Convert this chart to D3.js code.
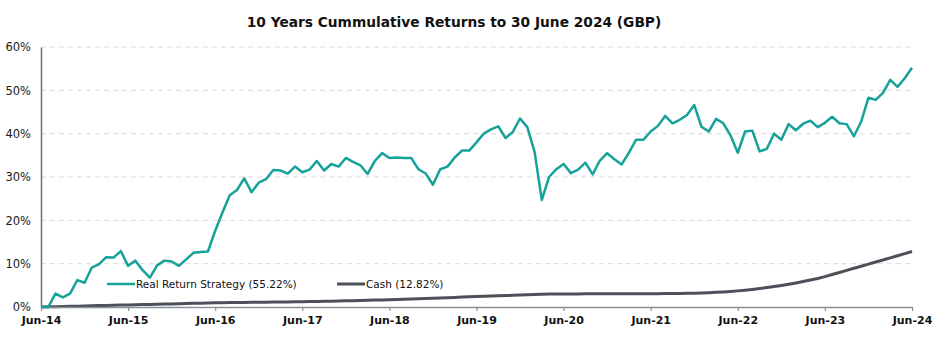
<!DOCTYPE html>
<html>
<head>
<meta charset="utf-8">
<script src="https://cdn.jsdelivr.net/npm/d3@7"></script>
<style>
  html, body { margin: 0; padding: 0; background: #ffffff; }
  svg { display: block; }
</style>
</head>
<body>
<svg id="chart" width="945" height="364"></svg>
<script>
// ---- Data ----
const title = "10 Years Cummulative Returns to 30 June 2024 (GBP)";
const xTickLabels = ["Jun-14","Jun-15","Jun-16","Jun-17","Jun-18","Jun-19","Jun-20","Jun-21","Jun-22","Jun-23","Jun-24"];
const yTicks = [0, 10, 20, 30, 40, 50, 60];
const seriesNames = ["Real Return Strategy (55.22%)", "Cash (12.82%)"];

// monthly cumulative return (%), Jun-14 .. Jun-24
const realReturn = [
  0, 0, 3.1, 2.2, 3.1, 6.2, 5.6, 9.1, 9.9, 11.5, 11.4, 12.9,
  9.5, 10.7, 8.5, 6.8, 9.6, 10.7, 10.5, 9.5, 11.0, 12.5, 12.7, 12.8,
  17.6, 21.8, 25.8, 27.0, 29.7, 26.5, 28.7, 29.5, 31.6, 31.5, 30.8, 32.4,
  31.1, 31.7, 33.7, 31.5, 33.0, 32.4, 34.4, 33.5, 32.7, 30.7, 33.7, 35.5,
  34.4, 34.5, 34.4, 34.4, 31.8, 30.8, 28.2, 31.8, 32.4, 34.5, 36.1, 36.1,
  38.0, 40.0, 41.0, 41.7, 39.0, 40.4, 43.5, 41.5, 35.8, 24.7, 30.0, 31.8,
  33.0, 30.9, 31.7, 33.3, 30.6, 33.8, 35.5, 34.1, 32.9, 35.6, 38.6, 38.6,
  40.5, 41.8, 44.1, 42.4, 43.2, 44.3, 46.6, 41.6, 40.5, 43.4, 42.4, 39.6,
  35.6, 40.5, 40.7, 35.9, 36.5, 40.0, 38.6, 42.2, 40.8, 42.3, 43.0, 41.5,
  42.5, 43.9, 42.4, 42.2, 39.4, 42.8, 48.3, 47.8, 49.4, 52.4, 50.8, 52.8,
  55.22
];
const cash = [
  0, 0.04, 0.08, 0.12, 0.16, 0.20, 0.24, 0.28, 0.32, 0.36, 0.40, 0.44,
  0.48, 0.52, 0.56, 0.60, 0.64, 0.68, 0.72, 0.76, 0.80, 0.84, 0.88, 0.92,
  0.96, 0.99, 1.02, 1.04, 1.06, 1.08, 1.10, 1.12, 1.14, 1.16, 1.18, 1.20,
  1.22, 1.25, 1.28, 1.31, 1.35, 1.39, 1.43, 1.47, 1.51, 1.55, 1.59, 1.63,
  1.68, 1.74, 1.80, 1.86, 1.92, 1.98, 2.04, 2.10, 2.16, 2.22, 2.28, 2.34,
  2.40, 2.46, 2.52, 2.58, 2.64, 2.70, 2.76, 2.82, 2.88, 2.94, 2.98, 3.00,
  3.01, 3.02, 3.02, 3.03, 3.03, 3.04, 3.04, 3.05, 3.05, 3.06, 3.06, 3.07,
  3.07, 3.08, 3.09, 3.10, 3.12, 3.15, 3.19, 3.24, 3.30, 3.38, 3.47, 3.58,
  3.72, 3.88, 4.06, 4.26, 4.48, 4.72, 4.98, 5.26, 5.56, 5.88, 6.22, 6.58,
  7.00, 7.49, 7.97, 8.45, 8.93, 9.41, 9.89, 10.37, 10.86, 11.35, 11.84, 12.33,
  12.82
];
const colors = ["#16a29a", "#4b5059"];

// ---- Layout ----
const svg = d3.select("#chart");
const pLeft = 41, pRight = 912, pTop = 47, pBottom = 307;
const x = d3.scaleLinear().domain([0, realReturn.length - 1]).range([pLeft, pRight]);
const y = d3.scaleLinear().domain([0, 60]).range([pBottom, pTop]);
const font = "'Century Gothic', 'DejaVu Sans', sans-serif";

// Title (fit to reference width)
const t = svg.append("text")
  .attr("x", 454).attr("y", 26.5)
  .attr("text-anchor", "middle")
  .attr("font-family", font)
  .attr("font-weight", "bold")
  .attr("font-size", 17)
  .attr("fill", "#111")
  .text(title);
const tw = t.node().getComputedTextLength();
t.attr("font-size", 17 * 415 / tw);

// Gridlines
svg.append("g")
  .selectAll("line")
  .data(yTicks.filter(d => d > 0))
  .join("line")
  .attr("x1", pLeft).attr("x2", pRight)
  .attr("y1", d => y(d)).attr("y2", d => y(d))
  .attr("stroke", "#d9d9d9")
  .attr("stroke-width", 1)
  .attr("stroke-dasharray", "5,4");

// Y axis
const yAxis = svg.append("g")
  .attr("transform", `translate(${pLeft},0)`)
  .call(d3.axisLeft(y).tickValues(yTicks).tickSize(0).tickPadding(10).tickFormat(d => d + "%"));
yAxis.select(".domain").attr("stroke", "#6b7078").attr("stroke-width", 1.5);
yAxis.selectAll("text")
  .attr("font-family", font).attr("font-size", 11.5).attr("fill", "#1a1a1a");

// Lines
const line = d3.line().x((d, i) => x(i)).y(d => y(d));
svg.append("path")
  .datum(cash)
  .attr("fill", "none")
  .attr("stroke", colors[1])
  .attr("stroke-width", 3)
  .attr("stroke-linejoin", "round")
  .attr("d", line);

// X axis
const xAxis = svg.append("g")
  .attr("transform", `translate(0,${pBottom})`)
  .call(d3.axisBottom(x)
    .tickValues(d3.range(0, realReturn.length, 12))
    .tickSize(4).tickSizeOuter(0).tickPadding(5)
    .tickFormat((d, i) => xTickLabels[i]));
xAxis.select(".domain").attr("stroke", "#8a9099").attr("stroke-width", 1.5);
xAxis.selectAll(".tick line").attr("stroke", "#8a9099").attr("stroke-width", 1.2);
xAxis.selectAll("text")
  .attr("font-family", font).attr("font-size", 11).attr("font-weight", "bold").attr("fill", "#111");

svg.append("path")
  .datum(realReturn)
  .attr("fill", "none")
  .attr("stroke", colors[0])
  .attr("stroke-width", 2.5)
  .attr("stroke-linejoin", "round")
  .attr("d", line);

// Legend
const legendItems = [
  { name: seriesNames[0], color: colors[0], x0: 107, w: 2.5 },
  { name: seriesNames[1], color: colors[1], x0: 337, w: 3 }
];
const lg = svg.append("g");
legendItems.forEach(it => {
  lg.append("line")
    .attr("x1", it.x0).attr("x2", it.x0 + 28)
    .attr("y1", 284).attr("y2", 284)
    .attr("stroke", it.color).attr("stroke-width", it.w);
  lg.append("text")
    .attr("x", it.x0 + 29).attr("y", 287.5)
    .attr("font-family", font).attr("font-size", 10.5)
    .attr("fill", "#111")
    .text(it.name);
});
</script>
</body>
</html>
